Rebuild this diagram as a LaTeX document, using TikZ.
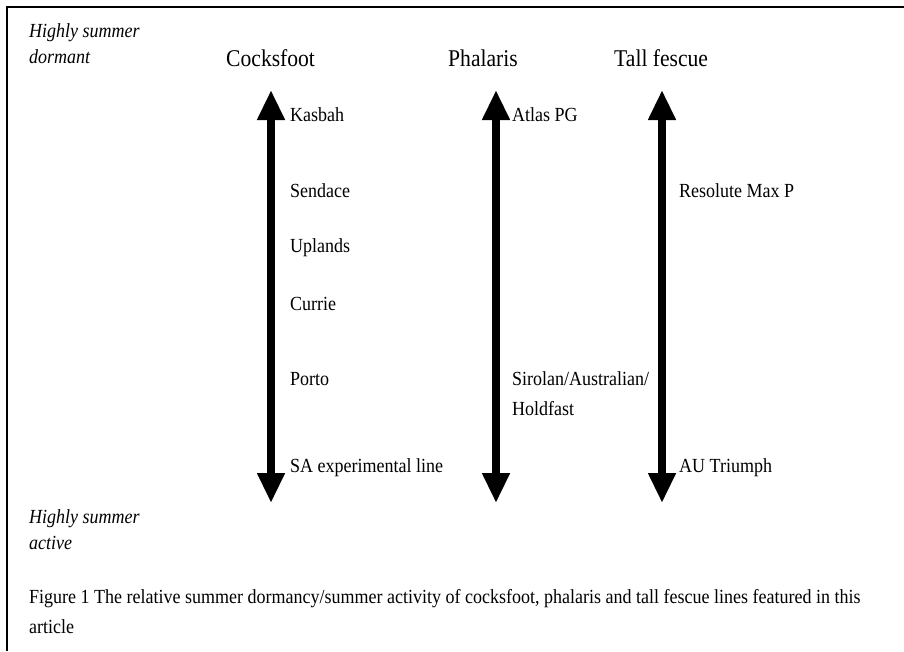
\documentclass[tikz,border=0pt]{standalone}
\usepackage{fontspec}
\setmainfont{Liberation Serif}
\newfontfamily\condfont[FakeStretch=0.9]{Liberation Serif}
\usetikzlibrary{arrows.meta}
\begin{document}
\begin{tikzpicture}[x=1pt,y=-1pt,
  lbl/.style={anchor=base west,inner sep=0pt,font=\condfont\fontsize{20}{22}\selectfont},
  side/.style={anchor=base west,inner sep=0pt,font=\condfont\fontsize{20}{22}\selectfont\itshape},
  head/.style={anchor=base west,inner sep=0pt,font=\condfont\fontsize{24}{26}\selectfont},
  dbl/.style={line width=8pt,{Triangle[width=26pt,length=30pt]}-{Triangle[width=26pt,length=30pt]}}]
\useasboundingbox (0,0) rectangle (904,651);
\draw[line width=2pt] (7,651) -- (7,7) -- (904,7);
% side labels
\node[side] (hs1) at (29,37) {Highly summer};
\node[side] (hs2) at (29,63) {dormant};
\node[side] (ha1) at (29,523) {Highly summer};
\node[side] (ha2) at (29,549) {active};
% headings
\node[head] (h1) at (226,66) {Cocksfoot};
\node[head] (h2) at (448,66) {Phalaris};
\node[head] (h3) at (614,66) {Tall fescue};
% arrows
\coordinate (a1t) at (271,90); \coordinate (a1b) at (271,503);
\coordinate (a2t) at (496,90); \coordinate (a2b) at (496,503);
\coordinate (a3t) at (662,90); \coordinate (a3b) at (662,503);
\draw[dbl] (a1t) -- (a1b);
\draw[dbl] (a2t) -- (a2b);
\draw[dbl] (a3t) -- (a3b);
% cocksfoot labels
\node[lbl] (c1) at (290,121) {Kasbah};
\node[lbl] (c2) at (290,197) {Sendace};
\node[lbl] (c3) at (290,252) {Uplands};
\node[lbl] (c4) at (290,310) {Currie};
\node[lbl] (c5) at (290,385) {Porto};
\node[lbl] (c6) at (290,472) {SA experimental line};
% phalaris labels
\node[lbl] (p1) at (512,121) {Atlas PG};
\node[lbl] (p2) at (512,385) {Sirolan/Australian/};
\node[lbl] (p3) at (512,415) {Holdfast};
% tall fescue labels
\node[lbl] (t1) at (679,197) {Resolute Max P};
\node[lbl] (t2) at (679,472) {AU Triumph};
% caption
\node[lbl] (cap1) at (29,603) {Figure 1 The relative summer dormancy/summer activity of cocksfoot, phalaris and tall fescue lines featured in this};
\node[lbl] (cap2) at (29,633) {article};
\end{tikzpicture}
\end{document}
